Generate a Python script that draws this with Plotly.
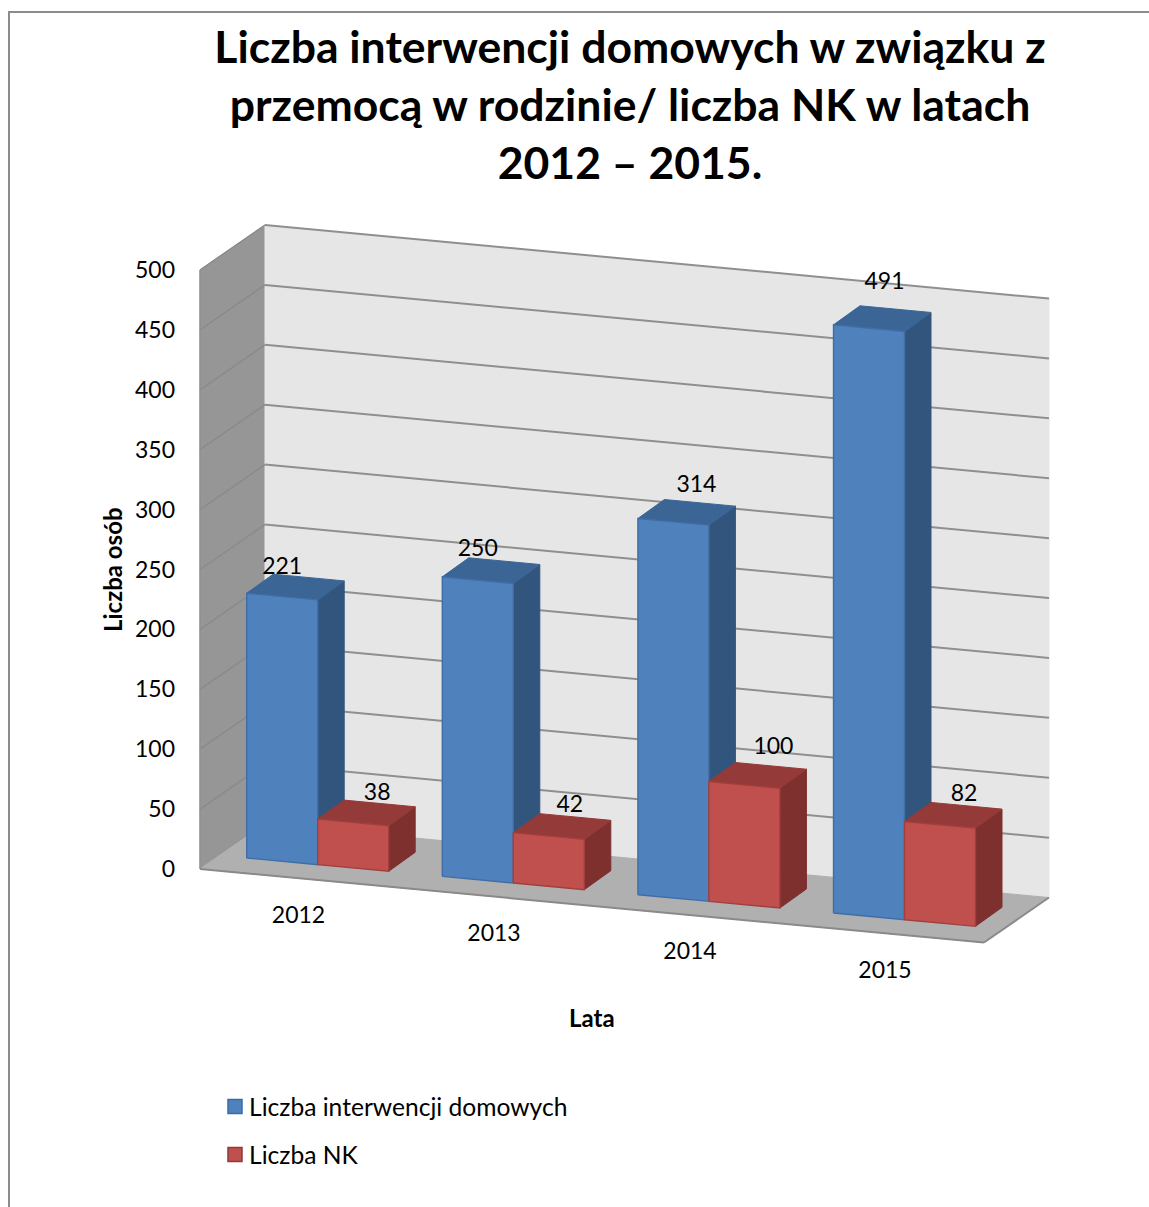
import plotly.graph_objects as go

# ---------- data ----------
YEARS = ["2012", "2013", "2014", "2015"]
INTERWENCJE = [221, 250, 314, 491]
NK = [38, 42, 100, 82]
Y_TICKS = [0, 50, 100, 150, 200, 250, 300, 350, 400, 450, 500]
SERIES_1 = "Liczba interwencji domowych"
SERIES_2 = "Liczba NK"
TITLE_LINES = ["Liczba interwencji domowych w związku z",
               "przemocą w rodzinie/ liczba NK w latach",
               "2012 – 2015."]

# ---------- geometry of the oblique projection ----------
W, H = 1149, 1207
PX_PER_UNIT = 1.198
ORIGIN_X, ORIGIN_PY = 200, 869
SLOPE = 0.0938
WALL_DX, WALL_DPY = 65, 45
FLOOR_LEN = 784
BAR_DX, BAR_DPY = 26.5, 19
BAR_LEFT0 = 246.7
BAR_STEP = 195.6
BAR_W = 71
BAR_SETBACK_PY = 15.4
TOP = 500


def to_v(py):
    return (ORIGIN_PY - py) / PX_PER_UNIT


def proj(x, v, rise_py=0.0):
    """Chart point: x along the floor front edge, v in axis units, rise_py lifted by depth."""
    return x, v + to_v(ORIGIN_PY + SLOPE * (x - ORIGIN_X) - rise_py)


def poly(points, fill, line=None, lw=1.0):
    xs = [p[0] for p in points] + [points[0][0]]
    ys = [p[1] for p in points] + [points[0][1]]
    return go.Scatter(x=xs, y=ys, mode="lines", fill="toself", fillcolor=fill,
                      line=dict(color=line or fill, width=lw), hoverinfo="skip",
                      showlegend=False)


def seg(a, b, color="#8a8a8a", lw=2.0):
    return go.Scatter(x=[a[0], b[0]], y=[a[1], b[1]], mode="lines",
                      line=dict(color=color, width=lw), hoverinfo="skip", showlegend=False)


def wall_b(x, v):
    """Point on the back wall: x given on the front edge."""
    return x + WALL_DX, proj(x, v, WALL_DPY)[1]


fig = go.Figure()

X0, X1 = ORIGIN_X, ORIGIN_X + FLOOR_LEN
# walls and floor
fig.add_trace(poly([proj(X0, 0), wall_b(X0, 0), wall_b(X0, TOP), proj(X0, TOP)], "#969696"))
fig.add_trace(poly([wall_b(X0, 0), wall_b(X1, 0), wall_b(X1, TOP), wall_b(X0, TOP)], "#e6e6e6"))
fig.add_trace(poly([proj(X0, 0), wall_b(X0, 0), wall_b(X1, 0), proj(X1, 0)], "#b0b0b0"))
for t in Y_TICKS:
    if t > 0:
        fig.add_trace(seg(proj(X0, t), wall_b(X0, t), "#8a8a8a", 1.4))
        fig.add_trace(seg(wall_b(X0, t), wall_b(X1, t), "#8f8f8f", 2.0))
fig.add_trace(seg(proj(X0, 0), proj(X0, TOP), "#8f8f8f", 1.2))
fig.add_trace(seg(proj(X0, 0), proj(X1, 0), "#8a8a8a", 2.0))
fig.add_trace(seg(proj(X1, 0), wall_b(X1, 0), "#8a8a8a", 2.0))

C_BLUE = dict(front="#4f81bd", top="#3b6595", side="#32557e", edge="#3f6ea6")
C_RED = dict(front="#c0504d", top="#943a38", side="#7d302e", edge="#a23f3c")

# series traces (their markers supply the legend keys; the solid bars are drawn over them)
fig.add_trace(go.Scatter(
    x=[BAR_LEFT0 + i * BAR_STEP + BAR_W / 2 for i in range(4)],
    y=[proj(BAR_LEFT0 + i * BAR_STEP + BAR_W / 2, v, BAR_SETBACK_PY)[1] for i, v in enumerate(INTERWENCJE)],
    mode="markers", name=SERIES_1, legendgroup="a", hoverinfo="skip",
    marker=dict(symbol="square", size=14, color=C_BLUE["front"], line=dict(color="#3a6ca5", width=1.5))))
fig.add_trace(go.Scatter(
    x=[BAR_LEFT0 + i * BAR_STEP + BAR_W * 1.5 for i in range(4)],
    y=[proj(BAR_LEFT0 + i * BAR_STEP + BAR_W * 1.5, v, BAR_SETBACK_PY)[1] for i, v in enumerate(NK)],
    mode="markers", name=SERIES_2, legendgroup="b", hoverinfo="skip",
    marker=dict(symbol="square", size=14, color=C_RED["front"], line=dict(color="#8f3a38", width=1.5))))


def bar(xl, v, c):
    xr = xl + BAR_W
    r = BAR_SETBACK_PY
    dep = r + BAR_DPY
    f = lambda x, val: proj(x, val, r)
    # back points sit on the bar's own depth offset
    b = lambda x, val: (x + BAR_DX, proj(x, val, dep)[1])
    fig.add_trace(poly([f(xr, 0), b(xr, 0), b(xr, v), f(xr, v)], c["side"], c["side"], 1))
    fig.add_trace(poly([f(xl, v), f(xr, v), b(xr, v), b(xl, v)], c["top"], c["top"], 1))
    fig.add_trace(poly([f(xl, 0), f(xr, 0), f(xr, v), f(xl, v)], c["front"], c["edge"], 1.4))


for i in range(len(YEARS)):
    left = BAR_LEFT0 + i * BAR_STEP
    bar(left, INTERWENCJE[i], C_BLUE)
    bar(left + BAR_W, NK[i], C_RED)

# data labels
LABEL_FONT = dict(family="Lato", size=23, color="#000000")
LABEL_DX_1 = [0, 0, 23, 15.5]
LABEL_DPY_1 = [25, 26.5, 32.5, 41.5]
LABEL_DX_2 = [24, 21, 29, 24]
LABEL_DPY_2 = [25, 26.5, 33.5, 26]
lx, ly, lt = [], [], []
for i in range(4):
    x1 = BAR_LEFT0 + i * BAR_STEP + BAR_W / 2
    lx.append(x1 + LABEL_DX_1[i])
    ly.append(proj(BAR_LEFT0 + i * BAR_STEP, INTERWENCJE[i], BAR_SETBACK_PY + LABEL_DPY_1[i])[1])
    lt.append(str(INTERWENCJE[i]))
    x2 = x1 + BAR_W
    lx.append(x2 + LABEL_DX_2[i])
    ly.append(proj(BAR_LEFT0 + BAR_W + i * BAR_STEP, NK[i], BAR_SETBACK_PY + LABEL_DPY_2[i])[1])
    lt.append(str(NK[i]))
fig.add_trace(go.Scatter(x=lx, y=ly, text=lt, mode="text", textposition="middle center",
                         textfont=LABEL_FONT, hoverinfo="skip", showlegend=False))

# category labels under the floor
CAT_X = [298.5, 494, 690, 885]
CAT_PY = [917.5, 935.5, 953.5, 972.5]
fig.add_trace(go.Scatter(x=CAT_X, y=[to_v(p) for p in CAT_PY], text=YEARS, mode="text",
                         textposition="middle center", textfont=LABEL_FONT,
                         hoverinfo="skip", showlegend=False))

fig.update_layout(
    width=W, height=H, margin=dict(l=0, r=0, t=0, b=0),
    paper_bgcolor="white", plot_bgcolor="white",
    title=dict(text="<br>".join(TITLE_LINES),
               font=dict(family="Lato", size=44.5, color="#000000", weight="bold"),
               x=630 / W, xanchor="center", y=1 - 63 / H, yanchor="top"),
    xaxis=dict(range=[0, W], visible=False, fixedrange=True),
    yaxis=dict(range=[to_v(H), to_v(0)], anchor="free", position=175 / W, tickmode="array",
               tickvals=Y_TICKS, ticktext=[str(t) for t in Y_TICKS], showgrid=False,
               zeroline=False, showline=False, ticks="", fixedrange=True,
               tickfont=LABEL_FONT),
    legend=dict(x=215 / W, y=1 - 1084 / H, xanchor="left", yanchor="top",
                font=dict(family="Lato", size=24.6, color="#000000"),
                tracegroupgap=13, indentation=-6, bgcolor="rgba(0,0,0,0)"),
    annotations=[
        dict(text="<b>Liczba osób</b>", xref="paper", yref="paper", x=112.5 / W, y=1 - 569.5 / H,
             xanchor="center", yanchor="middle", textangle=-90, showarrow=False,
             font=dict(family="Lato", size=24, color="#000000")),
        dict(text="<b>Lata</b>", xref="paper", yref="paper", x=592 / W, y=1 - 1017 / H,
             xanchor="center", yanchor="middle", showarrow=False,
             font=dict(family="Lato", size=24, color="#000000")),
    ],
    shapes=[
        dict(type="line", xref="paper", yref="paper", x0=9 / W, x1=9 / W, y0=0, y1=1 - 12 / H,
             line=dict(color="#8c8c8c", width=2)),
        dict(type="line", xref="paper", yref="paper", x0=8 / W, x1=1, y0=1 - 12 / H, y1=1 - 12 / H,
             line=dict(color="#8c8c8c", width=2)),
    ],
)

fig.write_html("out.html", config=dict(displayModeBar=False),
               post_script="document.body.style.margin='0';document.body.style.overflow='hidden';"
                           "document.querySelectorAll('.legendpoints').forEach(function(e){"
                           "e.setAttribute('transform',(e.getAttribute('transform')||'')+' translate(6,0)');});")
